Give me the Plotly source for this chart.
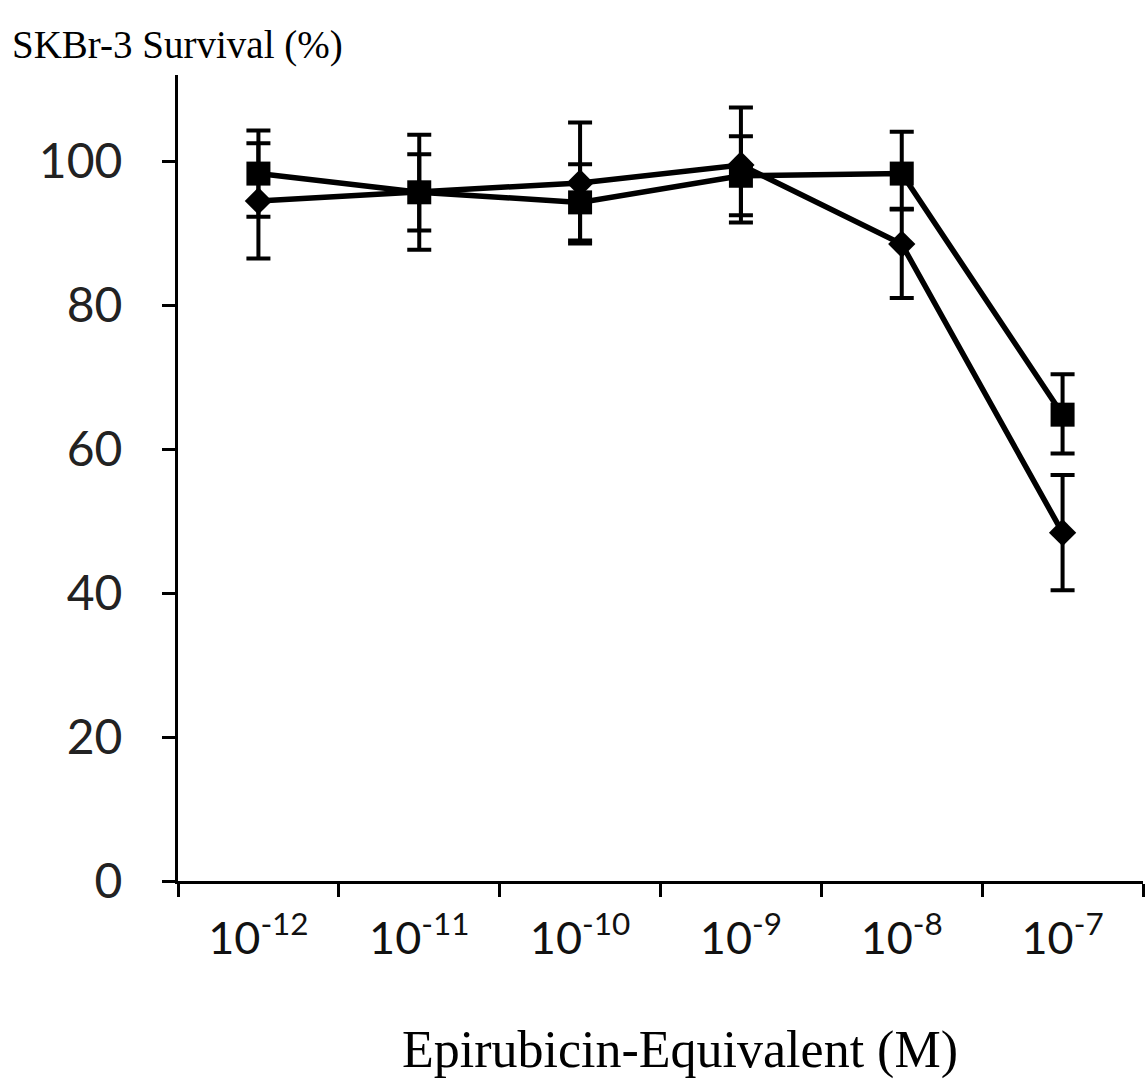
import plotly.graph_objects as go

categories = ["1e-12", "1e-11", "1e-10", "1e-9", "1e-8", "1e-7"]
tick_labels = ["10<sup>-12</sup>", "10<sup>-11</sup>", "10<sup>-10</sup>",
               "10<sup>-9</sup>", "10<sup>-8</sup>", "10<sup>-7</sup>"]

diamond_y = [94.5, 95.7, 97.0, 99.5, 88.5, 48.4]
diamond_err_plus = [8.0, 8.0, 8.4, 8.0, 4.9, 8.0]
diamond_err_minus = [8.0, 8.0, 8.4, 8.0, 7.5, 8.0]

square_y = [98.3, 95.7, 94.3, 98.0, 98.3, 64.8]
square_err_plus = [6.0, 5.3, 5.3, 5.5, 5.8, 5.6]
square_err_minus = [6.0, 5.3, 5.3, 5.5, 5.0, 5.4]

fig = go.Figure()

fig.add_trace(go.Scatter(
    x=categories, y=diamond_y, mode="lines+markers",
    line=dict(color="black", width=5.5),
    marker=dict(symbol="diamond", size=21, color="black"),
    error_y=dict(type="data", symmetric=False, array=diamond_err_plus,
                 arrayminus=diamond_err_minus, color="black", thickness=4, width=12),
    showlegend=False,
))
fig.add_trace(go.Scatter(
    x=categories, y=square_y, mode="lines+markers",
    line=dict(color="black", width=5.5),
    marker=dict(symbol="square", size=24, color="black"),
    error_y=dict(type="data", symmetric=False, array=square_err_plus,
                 arrayminus=square_err_minus, color="black", thickness=4, width=12),
    showlegend=False,
))

fig.update_layout(
    width=1147, height=1088,
    margin=dict(l=178, r=4, t=75, b=207),
    paper_bgcolor="white", plot_bgcolor="white",
    xaxis=dict(
        type="category", range=[-0.5, 5.5],
        tickmode="array", tickvals=categories, ticktext=tick_labels,
        tickson="boundaries", ticks="outside", ticklen=13, tickwidth=3, tickcolor="black",
        showline=True, linecolor="black", linewidth=3,
        showgrid=False, zeroline=False,
        tickfont=dict(family="Lato", size=45, color="#111111"),
        ticklabelstandoff=16,
    ),
    yaxis=dict(
        range=[0, 112], tickmode="array", tickvals=[0, 20, 40, 60, 80, 100],
        ticks="outside", ticklen=13, tickwidth=3, tickcolor="black",
        showline=True, linecolor="black", linewidth=3,
        showgrid=False, zeroline=False,
        tickfont=dict(family="Lato", size=48, color="#222222"),
        ticklabelstandoff=30,
    ),
    annotations=[
        dict(text="SKBr-3 Survival (%)", xref="paper", yref="paper",
             x=(10 - 178) / 965, y=(881 - 45) / 806, xanchor="left", yanchor="middle",
             showarrow=False, font=dict(family="Liberation Serif", size=39, color="black")),
        dict(text="Epirubicin-Equivalent (M)", xref="paper", yref="paper",
             x=(680 - 178) / 965, y=(881 - 1050) / 806, xanchor="center", yanchor="middle",
             showarrow=False, font=dict(family="Liberation Serif", size=52, color="black")),
    ],
)

fig.write_html("out.html")
